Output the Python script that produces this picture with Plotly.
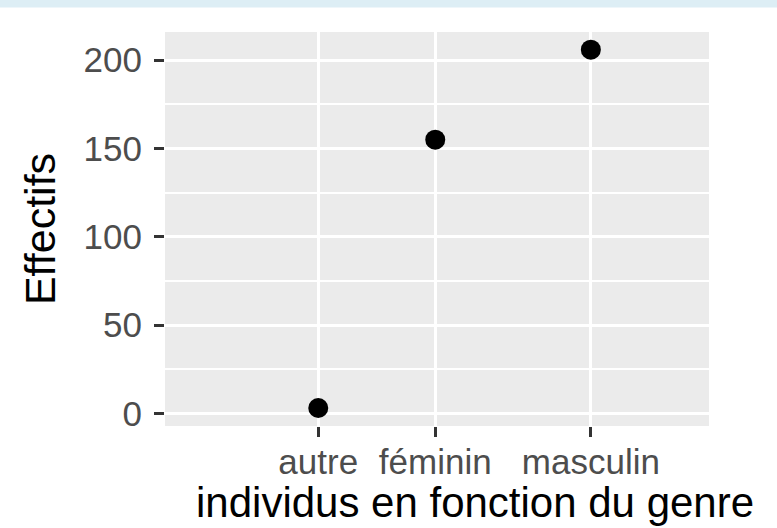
import plotly.graph_objects as go

# données
genres = ["autre", "féminin", "masculin"]
effectifs = [3, 155, 206]
# position des genres sur l'axe x (espacement repris du graphique)
genre_pos = [1, 2, 3.33]

y_ticks = [0, 50, 100, 150, 200]

fig = go.Figure()

fig.add_trace(go.Scatter(
    x=genre_pos,
    y=effectifs,
    mode="markers",
    marker=dict(color="black", size=20),
    showlegend=False,
    hoverinfo="skip",
))

# bande bleue claire en haut de la page
fig.add_shape(
    type="rect", xref="paper", yref="paper",
    x0=-0.4, x1=1.2, y0=1 + 24.5 / 394, y1=1 + 33 / 394,
    fillcolor="#ddeef5", line_width=0, layer="below",
)

# titre de l'axe x (un peu décalé vers la droite comme sur l'original)
fig.add_annotation(
    text="individus en fonction du genre",
    xref="paper", yref="paper", x=0.57, y=-0.193,
    xanchor="center", yanchor="middle", showarrow=False,
    font=dict(size=42, color="black"),
)

fig.update_layout(
    width=777,
    height=528,
    margin=dict(l=165, r=68, t=32, b=102),
    paper_bgcolor="white",
    plot_bgcolor="#ebebeb",
    font=dict(family="Liberation Sans, Arial, sans-serif"),
)

fig.update_xaxes(
    range=[-0.31, 4.34],
    tickvals=genre_pos,
    ticktext=genres,
    showgrid=True,
    gridcolor="white",
    gridwidth=3,
    zeroline=False,
    automargin=False,
    ticks="outside",
    ticklen=10,
    tickwidth=3,
    tickcolor="#333333",
    ticklabelstandoff=-5,
    tickfont=dict(size=35, color="#4d4d4d"),
)

fig.update_yaxes(
    range=[-7.2, 216],
    tickvals=y_ticks,
    showgrid=True,
    gridcolor="white",
    gridwidth=3,
    minor=dict(dtick=25, tick0=25, showgrid=True, gridcolor="white", gridwidth=1.5, ticks=""),
    zeroline=False,
    automargin=False,
    ticks="outside",
    ticklen=10,
    tickwidth=3,
    tickcolor="#333333",
    ticklabelstandoff=5,
    tickfont=dict(size=35, color="#4d4d4d"),
    title=dict(text="Effectifs", font=dict(size=43, color="black"), standoff=14),
)

# pas de marge autour du graphique dans la page
fig.write_html("out.html", config={"displayModeBar": False},
               post_script="document.body.style.margin = '0';")
